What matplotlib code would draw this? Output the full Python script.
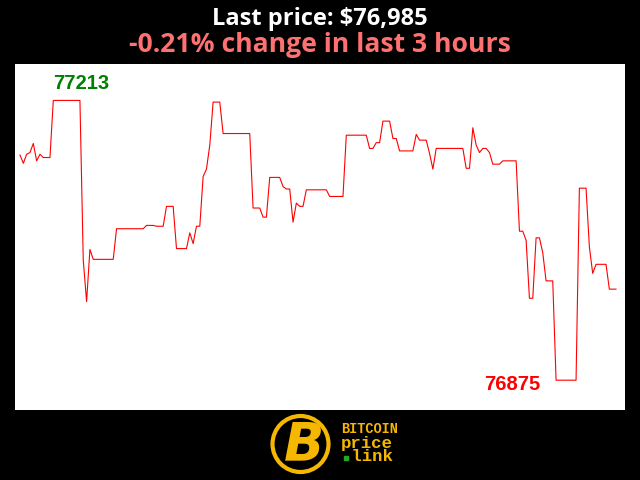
import matplotlib
matplotlib.use("Agg")
import matplotlib.pyplot as plt
from matplotlib.patches import Circle

# Data (minute index within the last 3 hours, price in USD)
minutes = [0, 1, 2, 3, 4, 5, 6, 7, 9, 10, 18, 19, 20, 21, 22, 28, 29, 37, 38, 40,
           41, 43, 44, 46, 47, 50, 51, 52, 53, 54, 55, 56, 57, 58, 60, 61, 69, 70,
           72, 73, 74, 75, 78, 79, 80, 81, 82, 83, 84, 85, 86, 92, 93, 97, 98, 104,
           105, 106, 107, 108, 109, 111, 112, 113, 114, 118, 119, 120, 122, 123, 124,
           125, 133, 134, 135, 136, 137, 138, 139, 140, 141, 142, 144, 145, 149, 150,
           151, 152, 153, 154, 155, 156, 157, 158, 160, 161, 167, 168, 170, 171, 172,
           173, 176, 177, 179]
prices = [77147, 77137, 77148, 77150, 77161, 77140, 77148, 77144, 77144, 77213, 77213,
          77020, 76970, 77033, 77021, 77021, 77058, 77058, 77062, 77062, 77061, 77061,
          77085, 77085, 77034, 77034, 77053, 77040, 77061, 77061, 77121, 77130, 77159,
          77211, 77211, 77173, 77173, 77083, 77083, 77072, 77072, 77120, 77120, 77109,
          77106, 77106, 77066, 77089, 77085, 77085, 77105, 77105, 77097, 77097, 77171,
          77171, 77155, 77155, 77162, 77162, 77188, 77188, 77167, 77167, 77152, 77152,
          77172, 77165, 77165, 77149, 77130, 77155, 77155, 77131, 77131, 77180, 77159,
          77150, 77155, 77155, 77150, 77136, 77136, 77140, 77140, 77055, 77055, 77044,
          76974, 76974, 77047, 77047, 77029, 76995, 76995, 76875, 76875, 77107, 77107,
          77036, 77004, 77015, 77015, 76985, 76985]

title_line1 = "Last price: $76,985"
title_line2 = "-0.21% change in last 3 hours"
max_label = "77213"
min_label = "76875"

W, H = 640, 480
fig = plt.figure(figsize=(6.4, 4.8), dpi=100, facecolor="black")

ax = fig.add_axes([15 / W, (H - 410) / H, 610 / W, 346 / H])
ax.set_facecolor("white")
ax.plot(minutes, prices, color="red", linewidth=0.8)
ax.set_xlim(-1.5, 181.7)
ax.set_ylim(76839, 77257)
ax.set_xticks([])
ax.set_yticks([])
for s in ax.spines.values():
    s.set_visible(False)

# max / min labels
imax = prices.index(max(prices))
imin = prices.index(min(prices))
ax.annotate(max_label, xy=(minutes[imax], prices[imax]), xytext=(0, 12.3),
            textcoords="offset points", ha="left", va="center",
            color="#008000", fontsize=14.5, fontweight="bold",
            family="Liberation Sans")
ax.annotate(min_label, xy=(minutes[imin], prices[imin]), xytext=(-11, -3),
            textcoords="offset points", ha="right", va="center",
            color="red", fontsize=14.5, fontweight="bold",
            family="Liberation Sans")

# titles
fig.text(0.5, 1 - 25 / H, title_line1, ha="center", va="baseline", color="white",
         fontsize=17, fontweight="bold", family="Open Sans")
fig.text(0.5, 1 - 52.5 / H, title_line2, ha="center", va="baseline", color="#ff7070",
         fontsize=19.1, fontweight="bold", family="Open Sans")

# logo
gold = "#f5b700"
lax = fig.add_axes([0, 0, 1, 70 / H])
lax.set_xlim(0, W)
lax.set_ylim(70, 0)
lax.set_aspect("equal")
lax.axis("off")
lax.add_patch(Circle((300.5, 34), 28, facecolor="black", edgecolor=gold, linewidth=3))
lax.text(304, 35, "B", ha="center", va="center", color=gold, fontsize=38,
         fontweight="bold", fontstyle="oblique", family="DejaVu Sans")
lax.text(341, 19, "BITCOIN", ha="left", va="center", color=gold, fontsize=9.8,
         fontweight="bold", family="Liberation Mono")
lax.text(341, 40, "price\n link", ha="left", va="center", color=gold, fontsize=12.5,
         fontweight="bold", family="Liberation Mono", linespacing=0.8)
lax.plot([346], [48], marker="s", markersize=3, color="#22aa22", linestyle="none")

fig.savefig("out.png", dpi=100, facecolor="black")
